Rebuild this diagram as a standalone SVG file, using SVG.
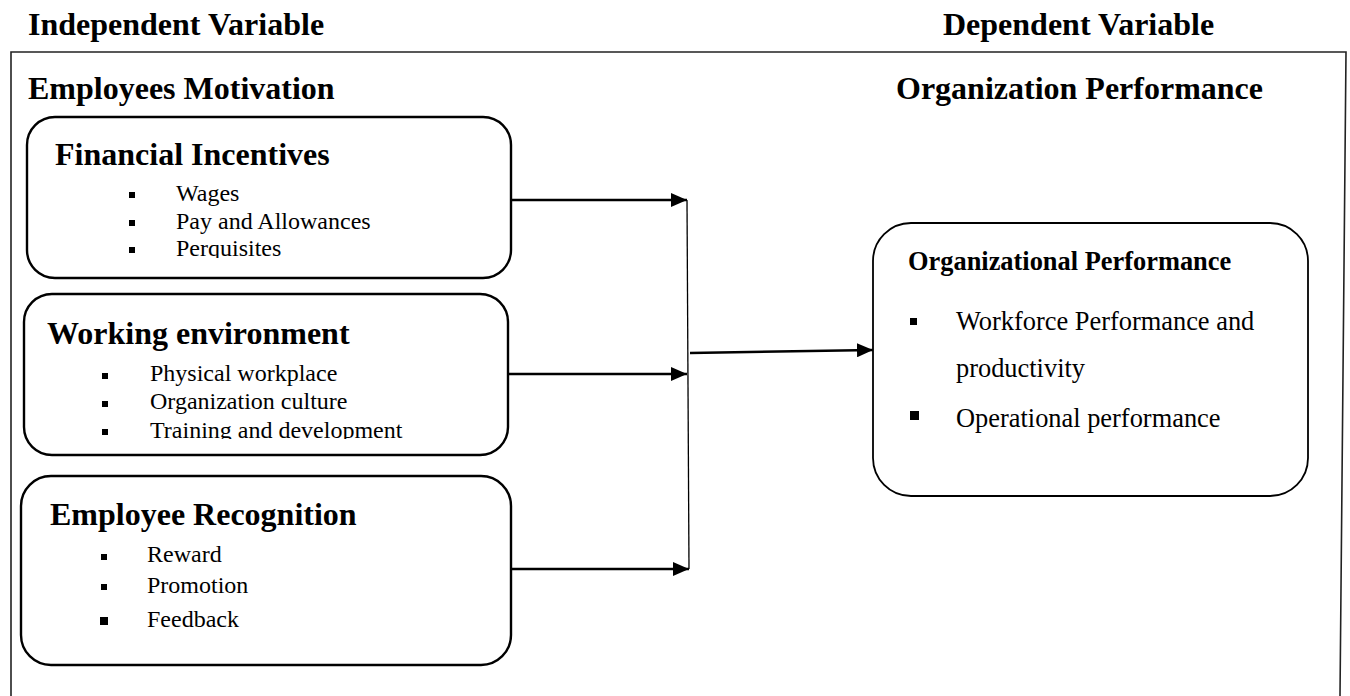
<svg xmlns="http://www.w3.org/2000/svg" width="1350" height="696" viewBox="0 0 1350 696">
  <defs>
    <style>
      .h { font-family: "Liberation Serif", "Times New Roman", serif; font-weight: bold; font-size: 32px; fill: #000; }
      .h2 { font-family: "Liberation Serif", "Times New Roman", serif; font-weight: bold; font-size: 26.4px; fill: #000; }
      .li { font-family: "Liberation Serif", "Times New Roman", serif; font-size: 24px; fill: #000; }
      .lr { font-family: "Liberation Serif", "Times New Roman", serif; font-size: 26.4px; fill: #000; }
      .box { fill: #fff; stroke: #000; stroke-width: 2.4; }
      .boxr { fill: #fff; stroke: #000; stroke-width: 1.8; }
      .frame { fill: none; stroke: #222; stroke-width: 1.6; }
      .conn { fill: none; stroke: #000; stroke-width: 2.4; }
      .join { fill: none; stroke: #000; stroke-width: 1.3; }
    </style>
    <marker id="arrow" viewBox="0 0 16 14" refX="16" refY="7" markerWidth="16" markerHeight="14" markerUnits="userSpaceOnUse" orient="auto">
      <path d="M0,0 L16,7 L0,14 Z" fill="#000"/>
    </marker>
    <clipPath id="clip1"><rect x="27" y="117" width="484" height="141"/></clipPath>
    <clipPath id="clip2"><rect x="24" y="294" width="484" height="145"/></clipPath>
  </defs>

  <rect width="1350" height="696" fill="#fff"/>

  <!-- column headings -->
  <text class="h" x="28" y="35">Independent Variable</text>
  <text class="h" x="943" y="35">Dependent Variable</text>

  <!-- outer frame (open at the bottom) -->
  <path class="frame" d="M11,696 L11,52 L1346,52 L1340,696"/>

  <text class="h" x="28" y="99">Employees Motivation</text>
  <text class="h" x="896" y="99">Organization Performance</text>

  <!-- connectors -->
  <g id="connectors">
    <line class="conn" x1="507" y1="200" x2="687" y2="200" marker-end="url(#arrow)"/>
    <line class="conn" x1="508" y1="374" x2="687" y2="374" marker-end="url(#arrow)"/>
    <line class="conn" x1="511" y1="569" x2="689" y2="569" marker-end="url(#arrow)"/>
    <line class="join" x1="687" y1="200" x2="689" y2="569"/>
    <line class="conn" x1="690" y1="353" x2="873" y2="350" marker-end="url(#arrow)"/>
  </g>

  <!-- Financial Incentives -->
  <g id="financial-incentives">
    <rect class="box" x="27" y="117" width="484" height="161" rx="28"/>
    <text class="h" x="55" y="165">Financial Incentives</text>
    <g clip-path="url(#clip1)">
      <rect x="129" y="192" width="6" height="6"/>
      <text class="li" x="176" y="201">Wages</text>
      <rect x="129" y="220" width="6" height="6"/>
      <text class="li" x="176" y="228.5">Pay and Allowances</text>
      <rect x="129" y="247" width="6" height="6"/>
      <text class="li" x="176" y="256">Perquisites</text>
    </g>
  </g>

  <!-- Working environment -->
  <g id="working-environment">
    <rect class="box" x="24" y="294" width="484" height="161" rx="28"/>
    <text class="h" x="47" y="344">Working environment</text>
    <g clip-path="url(#clip2)">
      <rect x="102" y="373" width="6" height="6"/>
      <text class="li" x="150" y="381">Physical workplace</text>
      <rect x="102" y="401" width="6" height="6"/>
      <text class="li" x="150" y="409">Organization culture</text>
      <rect x="102" y="429" width="6" height="6"/>
      <text class="li" x="150" y="437.5">Training and development</text>
    </g>
  </g>

  <!-- Employee Recognition -->
  <g id="employee-recognition">
    <rect class="box" x="21" y="476" width="490" height="189" rx="30"/>
    <text class="h" x="50" y="525">Employee Recognition</text>
    <rect x="101" y="554" width="6" height="6"/>
    <text class="li" x="147" y="562">Reward</text>
    <rect x="101" y="584" width="6" height="6"/>
    <text class="li" x="147" y="593">Promotion</text>
    <rect x="100" y="617" width="8" height="8"/>
    <text class="li" x="147" y="627">Feedback</text>
  </g>

  <!-- Organizational Performance -->
  <g id="organizational-performance">
    <rect class="boxr" x="873" y="223" width="435" height="273" rx="38"/>
    <text class="h2" x="908" y="270">Organizational Performance</text>
    <rect x="910" y="318" width="7" height="7"/>
    <text class="lr" x="956" y="330">Workforce Performance and</text>
    <text class="lr" x="956" y="377">productivity</text>
    <rect x="910" y="411" width="9" height="9"/>
    <text class="lr" x="956" y="427">Operational performance</text>
  </g>
</svg>
